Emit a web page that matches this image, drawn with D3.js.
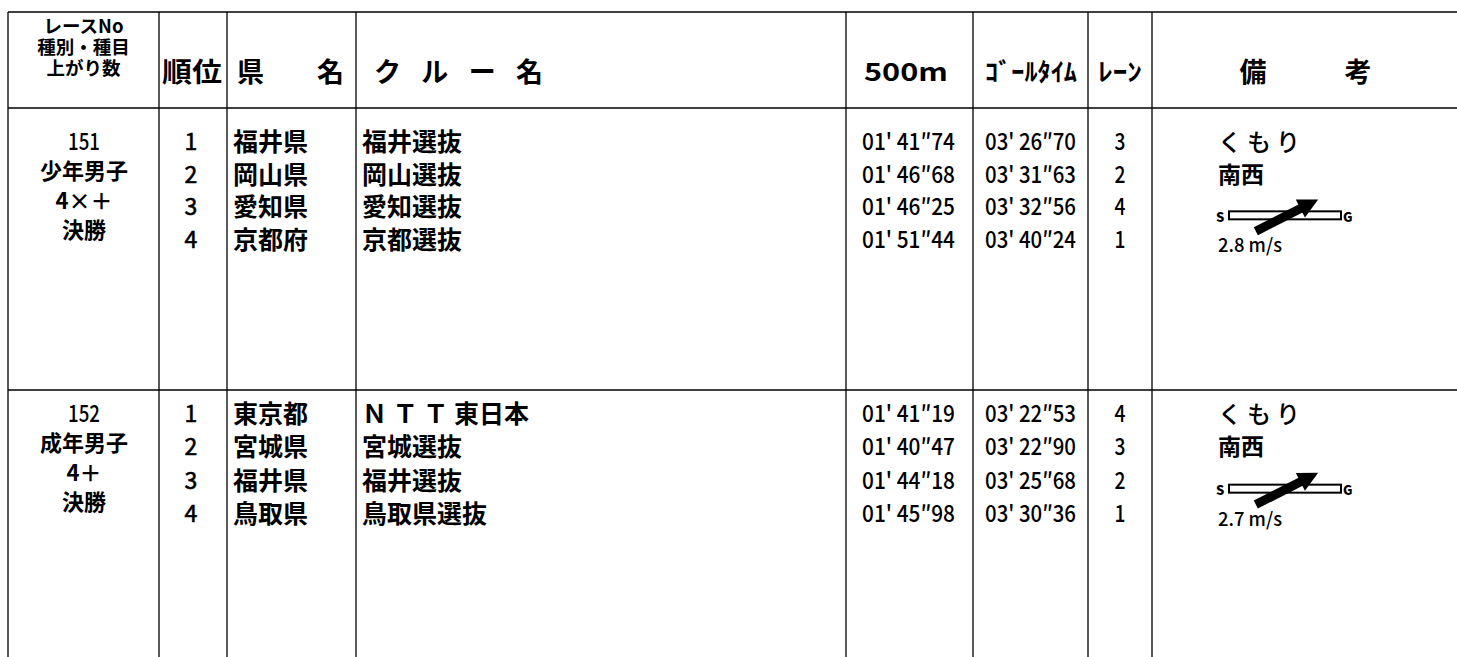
<!DOCTYPE html>
<html><head><meta charset="utf-8">
<script src="https://cdn.jsdelivr.net/npm/d3@7"></script>
<style>
body{margin:0;background:#fff}
text{font-family:"Noto Sans CJK JP","Noto Sans",sans-serif;fill:#000}
</style></head>
<body><svg id="c" width="1457" height="657"></svg>
<script>
// ---- data ----
const raceNos = ["151", "152"];
const raceTypes = ["少年男子", "成年男子"];
const raceEvents = ["4×＋", "4＋"];
const raceRounds = ["決勝", "決勝"];
const ranks = [[1, 2, 3, 4], [1, 2, 3, 4]];
const prefs = [["福井県", "岡山県", "愛知県", "京都府"], ["東京都", "宮城県", "福井県", "鳥取県"]];
const crews = [["福井選抜", "岡山選抜", "愛知選抜", "京都選抜"], ["Ｎ Ｔ Ｔ 東日本", "宮城選抜", "福井選抜", "鳥取県選抜"]];
const split500 = [["01' 41″74", "01' 46″68", "01' 46″25", "01' 51″44"], ["01' 41″19", "01' 40″47", "01' 44″18", "01' 45″98"]];
const goalTimes = [["03' 26″70", "03' 31″63", "03' 32″56", "03' 40″24"], ["03' 22″53", "03' 22″90", "03' 25″68", "03' 30″36"]];
const lanes = [[3, 2, 4, 1], [4, 3, 2, 1]];
const weather = ["くもり", "くもり"];
const windDir = ["南西", "南西"];
const windSpeed = [2.8, 2.7];
const headerRace = ["レースNo", "種別・種目", "上がり数"];
const headerCols = ["順位", "県　名", "ク ル ー 名", "500m", "ｺﾞｰﾙﾀｲﾑ", "ﾚｰﾝ", "備　　考"];

// ---- layout ----
const svg = d3.select("#c");
const W = 1457, H = 657;
const colX = [8, 159, 227, 356, 846, 973, 1088, 1152];
const topY = 12, headY = 108;
const sectionTops = [108, 390];
const g = svg.append("g");

// grid lines
g.selectAll("line.h").data([topY, headY, sectionTops[1]]).join("line")
  .attr("x1", colX[0]).attr("x2", W).attr("y1", d => d).attr("y2", d => d)
  .attr("stroke", "#000").attr("stroke-width", 1.6);
g.selectAll("line.v").data(colX).join("line")
  .attr("x1", d => d).attr("x2", d => d).attr("y1", topY).attr("y2", H)
  .attr("stroke", "#000").attr("stroke-width", 1.3);

// header
const hRace = d3.scalePoint().domain(headerRace).range([25, 67]);
g.selectAll("text.hr").data(headerRace).join("text")
  .attr("x", (colX[0] + colX[1]) / 2).attr("y", d => hRace(d))
  .attr("text-anchor", "middle").attr("dominant-baseline", "central")
  .attr("font-size", 18.5).attr("font-weight", 700).text(d => d);

const hy = 70;
function head(x, txt, opts) {
  const t = g.append("text").attr("x", x).attr("y", hy).attr("dominant-baseline", "central")
    .attr("font-size", opts.fs || 27).attr("font-weight", 700).text(txt);
  if (opts.anchor) t.attr("text-anchor", opts.anchor);
  if (opts.len) t.attr("textLength", opts.len).attr("lengthAdjust", "spacingAndGlyphs");
  return t;
}
head(162, headerCols[0], {len: 60});
head(237, "県", {});
head(317, "名", {});
const crewHead = ["ク", "ル", "ー", "名"];
const crewX = d3.scalePoint().domain(crewHead).range([374, 516]);
g.selectAll("text.ch").data(crewHead).join("text")
  .attr("x", d => crewX(d)).attr("y", hy).attr("dominant-baseline", "central")
  .attr("font-size", 27).attr("font-weight", 700).text(d => d);
head(906, headerCols[3], {fs: 25, anchor: "middle", len: 84});
head(1031, headerCols[4], {fs: 25, anchor: "middle", len: 92});
head(1120, headerCols[5], {fs: 25, anchor: "middle", len: 44});
head(1253, "備", {anchor: "middle"});
head(1358, "考", {anchor: "middle"});

// sections
const rowOffsets = [[32, 130], [22, 122]];
const raceOffsets = [[32, 120], [22, 110]];
raceNos.forEach((no, s) => {
  const top = sectionTops[s];
  const y = d3.scaleLinear().domain([0, 3]).range([top + rowOffsets[s][0], top + rowOffsets[s][1]]);
  const yr = d3.scaleLinear().domain([0, 3]).range([top + raceOffsets[s][0], top + raceOffsets[s][1]]);
  const sg = g.append("g");
  const raceLines = [no, raceTypes[s], raceEvents[s], raceRounds[s]];
  sg.selectAll("text.rc").data(raceLines).join("text")
    .attr("x", 84).attr("y", (d, i) => yr(i)).attr("text-anchor", "middle").attr("dominant-baseline", "central")
    .attr("font-size", (d, i) => i === 0 ? 23 : 22).attr("font-weight", (d, i) => i === 0 ? 500 : 700)
    .attr("textLength", (d, i) => i === 0 ? 32 : null).attr("lengthAdjust", "spacingAndGlyphs")
    .text(d => d);
  const idx = d3.range(4);
  sg.selectAll("text.rk").data(idx).join("text")
    .attr("x", 191).attr("y", i => y(i)).attr("text-anchor", "middle").attr("dominant-baseline", "central")
    .attr("font-family", "Liberation Sans").attr("font-size", 23).attr("font-weight", 400)
    .attr("stroke", "#000").attr("stroke-width", 0.6).text(i => ranks[s][i]);
  sg.selectAll("text.pf").data(idx).join("text")
    .attr("x", 233).attr("y", i => y(i)).attr("dominant-baseline", "central")
    .attr("font-size", 25).attr("font-weight", 700).text(i => prefs[s][i]);
  sg.selectAll("text.cr").data(idx).join("text")
    .attr("x", 362).attr("y", i => y(i)).attr("dominant-baseline", "central")
    .attr("font-size", 25).attr("font-weight", 700).text(i => crews[s][i]);
  sg.selectAll("text.sp").data(idx).join("text")
    .attr("x", 862).attr("y", i => y(i)).attr("dominant-baseline", "central")
    .attr("font-size", 23).attr("font-weight", 500).attr("textLength", 93).attr("lengthAdjust", "spacingAndGlyphs")
    .text(i => split500[s][i]);
  sg.selectAll("text.gt").data(idx).join("text")
    .attr("x", 985).attr("y", i => y(i)).attr("dominant-baseline", "central")
    .attr("font-size", 23).attr("font-weight", 500).attr("textLength", 91).attr("lengthAdjust", "spacingAndGlyphs")
    .text(i => goalTimes[s][i]);
  sg.selectAll("text.ln").data(idx).join("text")
    .attr("x", 1120).attr("y", i => y(i)).attr("text-anchor", "middle").attr("dominant-baseline", "central")
    .attr("font-size", 23).attr("font-weight", 500).attr("textLength", 11).attr("lengthAdjust", "spacingAndGlyphs")
    .text(i => lanes[s][i]);
  // remarks
  sg.append("text").attr("x", 1218).attr("y", y(0)).attr("dominant-baseline", "central")
    .attr("font-size", 24).attr("font-weight", 500).attr("letter-spacing", 5).text(weather[s]);
  sg.append("text").attr("x", 1218).attr("y", y(1)).attr("dominant-baseline", "central")
    .attr("font-size", 23).attr("font-weight", 700).text(windDir[s]);
  // wind graphic
  const wy = y(2) + 10;
  const rx = 1229, rw = 112;
  sg.append("text").attr("x", 1216).attr("y", wy + 1).attr("dominant-baseline", "central")
    .attr("font-family", "DejaVu Sans").attr("font-size", 13).attr("font-weight", 900).text("S");
  sg.append("rect").attr("x", rx).attr("y", wy - 4).attr("width", rw).attr("height", 8)
    .attr("fill", "#fff").attr("stroke", "#000").attr("stroke-width", 2);
  sg.append("text").attr("x", rx + rw + 2).attr("y", wy + 1).attr("dominant-baseline", "central")
    .attr("font-family", "DejaVu Sans").attr("font-size", 13).attr("font-weight", 900).text("G");
  // arrow: wind from SW (tail lower-left) toward NE
  const ang = -27 * Math.PI / 180;
  const cx = rx + 58, cy = wy;
  const L = 70;
  const ux = Math.cos(ang), uy = Math.sin(ang);
  const tail = [cx - ux * L / 2, cy - uy * L / 2];
  const tip = [cx + ux * L / 2, cy + uy * L / 2];
  const hb = [tip[0] - ux * 20, tip[1] - uy * 20];
  sg.append("line").attr("x1", tail[0]).attr("y1", tail[1]).attr("x2", hb[0] + ux * 3).attr("y2", hb[1] + uy * 3)
    .attr("stroke", "#000").attr("stroke-width", 9);
  const px = -uy, py = ux;
  sg.append("path").attr("d", d3.line()([tip, [hb[0] + px * 10, hb[1] + py * 10], [hb[0] - px * 10, hb[1] - py * 10]]) + "Z")
    .attr("fill", "#000");
  sg.append("text").attr("x", 1218).attr("y", y(3) + 5).attr("dominant-baseline", "central")
    .attr("font-size", 19).attr("font-weight", 500).attr("textLength", 64).attr("lengthAdjust", "spacingAndGlyphs")
    .text(windSpeed[s].toFixed(1) + " m/s");
});
</script>
</body></html>
